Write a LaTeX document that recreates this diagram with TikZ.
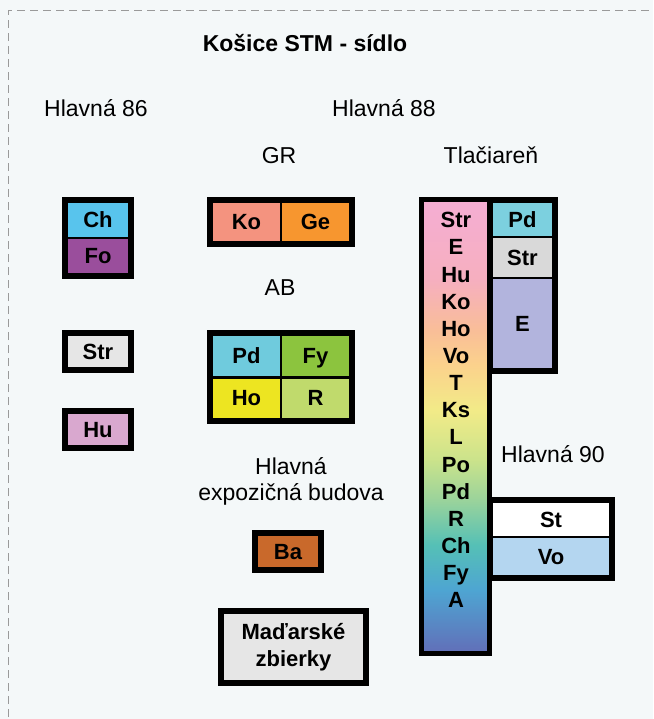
\documentclass[tikz,border=0pt]{standalone}
\usepackage{fontspec}
\setmainfont{Liberation Sans}
\usetikzlibrary{fit}
\definecolor{bg}{HTML}{F4F8F9}
\definecolor{dashgray}{HTML}{9A9A9A}
\definecolor{cch}{HTML}{58C4ED}
\definecolor{cfo}{HTML}{9A4E9C}
\definecolor{cgrayl}{HTML}{E6E6E6}
\definecolor{cgrayd}{HTML}{D9D9D9}
\definecolor{chu}{HTML}{D9A8CF}
\definecolor{cko}{HTML}{F4937F}
\definecolor{cge}{HTML}{F7962F}
\definecolor{cpd}{HTML}{6FCBDD}
\definecolor{cfy}{HTML}{8CC43E}
\definecolor{cho}{HTML}{EDE521}
\definecolor{cr}{HTML}{C0DA6C}
\definecolor{cba}{HTML}{C9692B}
\definecolor{cpdr}{HTML}{7CD0DF}
\definecolor{ce}{HTML}{B2B4DD}
\definecolor{cvo}{HTML}{B4D6F0}
\definecolor{ga}{HTML}{F5AED3}
\definecolor{gb}{HTML}{F6AFBF}
\definecolor{gc}{HTML}{F9BE98}
\definecolor{gd}{HTML}{FBD28C}
\definecolor{ge}{HTML}{F2EB88}
\definecolor{gf}{HTML}{CBE38B}
\definecolor{gg}{HTML}{9AD39B}
\definecolor{gh}{HTML}{55C0B6}
\definecolor{gi}{HTML}{4EA5D2}
\definecolor{gj}{HTML}{6170B9}
\pgfdeclareverticalshading{rainbowcol}{100bp}{color(0bp)=(gj); color(25bp)=(gj); color(31.8bp)=(gi); color(36.8bp)=(gh); color(41.8bp)=(gg); color(46.3bp)=(gf); color(51.8bp)=(ge); color(56.8bp)=(gd); color(60.7bp)=(gc); color(66.3bp)=(gb); color(75bp)=(ga); color(100bp)=(ga)}
\newcommand\cellbox[7]{\node[cell, fill=#6, minimum width={(#4-#2)*1pt}, minimum height={(#5-#3)*1pt}] (#1) at ({(#2+#4)/2},{(#3+#5)/2}) {#7};}
\begin{document}
\begin{tikzpicture}[x=1pt,y=-1pt,
  cell/.style={draw=black, line width=1.5pt, inner sep=0pt, outer sep=0pt, font=\fontsize{22}{26}\selectfont\bfseries, text height=15.7pt, text depth=0pt},
  frame/.style={draw=black, line width=5pt, inner sep=2.5pt, outer sep=0pt},
  lbl/.style={inner sep=0pt, font=\fontsize{23}{26}\selectfont, text height=16.5pt, text depth=0pt},
  collbl/.style={inner sep=0pt, font=\fontsize{22}{26}\selectfont\bfseries, text height=15.7pt, text depth=0pt},
]
\useasboundingbox (0,0) rectangle (653,719);
\fill[bg] (0,0) rectangle (653,719);
\draw[dashgray, dash pattern=on 8pt off 5pt, line width=1pt] (8,730) -- (8,11) -- (665,11);

% labels
\node[lbl, font=\fontsize{23}{26}\selectfont\bfseries] (title) at (305,43) {Košice STM - sídlo};
\node[lbl] (h86) at (96,108) {Hlavná 86};
\node[lbl] (h88) at (384,108) {Hlavná 88};
\node[lbl] (gr) at (279,155) {GR};
\node[lbl] (tla) at (491,155) {Tlačiareň};
\node[lbl] (ab) at (280,287) {AB};
\node[inner sep=0pt, font=\fontsize{23}{26}\selectfont, align=center] (hexp) at (291,481) {Hlavná\\expozičná budova};
\node[lbl] (h90) at (553,454) {Hlavná 90};

% Hlavná 86
\cellbox{ch}{67}{202}{129}{238}{cch}{Ch}
\cellbox{fo}{67}{238}{129}{274}{cfo}{Fo}
\node[frame, fit=(ch)(fo)] (chfo) {};
\cellbox{strl}{67}{335}{129}{368}{cgrayl}{Str}
\node[frame, fit=(strl)] (strlf) {};
\cellbox{hu}{67}{413}{129}{446}{chu}{Hu}
\node[frame, fit=(hu)] (huf) {};

% GR
\cellbox{ko}{212}{202}{281}{242}{cko}{Ko}
\cellbox{ge}{281}{202}{350}{242}{cge}{Ge}
\node[frame, fit=(ko)(ge)] (kogef) {};

% AB
\cellbox{pd}{212}{335}{281}{377}{cpd}{Pd}
\cellbox{fy}{281}{335}{350}{377}{cfy}{Fy}
\cellbox{ho}{212}{377}{281}{419}{cho}{Ho}
\cellbox{r}{281}{377}{350}{419}{cr}{R}
\draw[line width=3pt] (pd.south west) -- (fy.south east);
\node[frame, fit=(pd)(r)] (abf) {};

% Hlavná expozičná budova
\cellbox{ba}{257}{535}{319}{568}{cba}{Ba}
\node[frame, fit=(ba)] (baf) {};
\node[cell, fill=cgrayl, minimum width=141pt, minimum height=68pt, align=center, text height=, text depth=, font=\fontsize{22}{27}\selectfont\bfseries] (mad) at (293.5,647) {Maďarské\\zbierky};
\node[frame, fit=(mad)] (madf) {};

% Tlačiareň column
\node[shading=rainbowcol, minimum width=63pt, minimum height=449pt, inner sep=0pt, outer sep=0pt] (col) at (455.5,426.5) {};
\node[frame, fit=(col)] (colf) {};
\foreach \t [count=\i] in {Str,E,Hu,Ko,Ho,Vo,T,Ks,L,Po,Pd,R,Ch,Fy,A}
  \node[collbl] (col\i) at (456,{220+27.14*(\i-1)}) {\t};

\cellbox{pdr}{492}{202}{553}{237}{cpdr}{Pd}
\cellbox{strr}{492}{237}{553}{278}{cgrayd}{Str}
\cellbox{er}{492}{278}{553}{369}{ce}{E}
\node[frame, fit=(pdr)(er)] (rightf) {};

% Hlavná 90
\cellbox{st}{492}{502}{610}{537}{white}{St}
\cellbox{vo}{492}{537}{610}{576}{cvo}{Vo}
\node[frame, fit=(st)(vo)] (stvof) {};
\end{tikzpicture}
\end{document}
